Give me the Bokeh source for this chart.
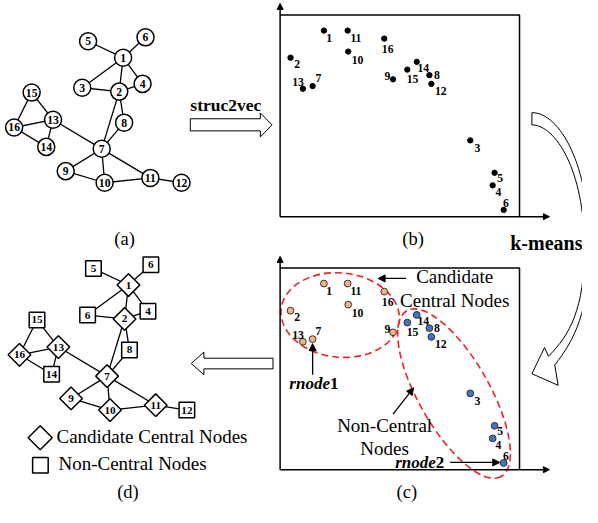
import math
from bokeh.plotting import figure
from bokeh.models import Range1d, Arrow, NormalHead
from bokeh.embed import file_html
from bokeh.resources import INLINE
from bokeh.core.properties import value

# ---------------- data ----------------
node_ids = list(range(1, 17))
# graph layout of panel (a) (reference pixel space)
graph_x = [126, 122, 84, 146, 90, 149, 104, 127, 67, 107, 154, 186, 54, 47, 32, 14]
graph_y = [59, 94, 90, 86, 42, 38, 153, 126, 176, 188, 183, 188, 123, 151, 95, 131]
edge_from = [5, 6, 1, 1, 1, 3, 2, 2, 2, 8, 15, 15, 16, 16, 13, 13, 7, 7, 7, 9, 10, 11]
edge_to = [1, 1, 3, 2, 4, 2, 4, 8, 7, 7, 13, 16, 13, 14, 14, 7, 9, 10, 11, 10, 11, 12]
# struc2vec embedding, panel (b)
emb_x = [332.3, 298, 482.7, 505.7, 507.7, 517, 320.7, 440.7, 403.3, 357.3, 356.7, 442.7, 310.7, 427.7, 418, 394.3]
emb_y = [31, 59, 144.3, 190.7, 177.7, 216, 88.3, 77, 81.3, 52.7, 31, 86, 91, 63.3, 71.3, 39.3]
# k-means result: 1 = candidate central node
cluster = [1, 1, 0, 0, 0, 0, 1, 0, 1, 1, 1, 0, 1, 0, 0, 1]
# node labels printed in panel (d)
d_labels = ["1", "2", "6", "4", "5", "6", "7", "8", "9", "10", "11", "12", "13", "14", "15", "16"]

# ---------------- layout / style ----------------
W, H = 598, 523
PW, PH = 582, 507
S = PW / W
FONT = value("Liberation Serif")
D_DX, D_DY = 5.5, 234.5      # panel (d) offset from (a)
C_DY = 261                   # panel (c) offset from (b)
lab_dx = [5.5, 6.7, 7.3, 6, 5.7, 2.3, 6, 7.7, -5.7, 9.5, 8.5, 9.7, -5, 6.7, 5.3, 3.5]
lab_dy = [8, 7, 8, 7, 5.7, -7.3, -8.3, 0, -3.7, 8.3, 8, 7.3, -7, 6, 9.7, 11]


def fs(px):
    return f"{px * S:.1f}px"


p = figure(width=PW, height=PH, x_range=Range1d(0, W), y_range=Range1d(H, 0),
           output_backend="svg", toolbar_location=None, min_border=0,
           x_axis_location=None, y_axis_location=None)
p.grid.visible = False
p.outline_line_color = None
p.background_fill_color = "white"

idx = {n: i for i, n in enumerate(node_ids)}

# ---------- panels (a) and (d): graphs ----------
for dx, dy in ((0, 0), (D_DX, D_DY)):
    gx = [x + dx for x in graph_x]
    gy = [y + dy for y in graph_y]
    p.segment([gx[idx[a]] for a in edge_from], [gy[idx[a]] for a in edge_from],
              [gx[idx[b]] for b in edge_to], [gy[idx[b]] for b in edge_to],
              line_color="black", line_width=1.3)

# (a) circles
p.scatter(graph_x, graph_y, marker="circle", size=17.5 * S, fill_color="white",
          line_color="black", line_width=1.5)
p.text(graph_x, graph_y, text=[str(n) for n in node_ids], text_font=FONT,
       text_font_style="bold", text_font_size=fs(12), text_align="center",
       text_baseline="middle")

# (d) diamonds / squares
dxs = [x + D_DX for x in graph_x]
dys = [y + D_DY for y in graph_y]
cx_ = [x for x, c in zip(dxs, cluster) if c]
cy_ = [y for y, c in zip(dys, cluster) if c]
nx_ = [x for x, c in zip(dxs, cluster) if not c]
ny_ = [y for y, c in zip(dys, cluster) if not c]
p.scatter(cx_, cy_, marker="square", angle=math.pi / 4, size=16.5 * S,
          fill_color="white", line_color="black", line_width=1.5)
p.scatter(nx_, ny_, marker="square", size=16 * S, fill_color="white",
          line_color="black", line_width=1.5)
p.text(dxs, dys, text=d_labels, text_font=FONT, text_font_style="bold",
       text_font_size=fs(11.5), text_align="center", text_baseline="middle")

# legend of (d)
p.scatter([40.8], [451], marker="square", angle=math.pi / 4, size=17.5 * S,
          fill_color="white", line_color="black", line_width=1.5)
p.scatter([41], [479.5], marker="square", size=16 * S, fill_color="white",
          line_color="black", line_width=1.5)
p.text([57.5, 59.5], [450, 478], text=["Candidate Central Nodes", "Non-Central Nodes"],
       text_font=FONT, text_font_size=fs(19.5), text_align="left", text_baseline="middle")

# ---------- panels (b) and (c): boxes and axes ----------
for dy in (0, C_DY):
    p.line([287.3, 533.3, 533.3], [15 + dy, 15 + dy, 223 + dy], line_color="black", line_width=1.5)
    p.add_layout(Arrow(end=NormalHead(size=6, fill_color="black", line_color="black", line_width=1),
                       x_start=287.3, y_start=223 + dy, x_end=287.3, y_end=3 + dy,
                       line_color="black", line_width=1.5))
    p.add_layout(Arrow(end=NormalHead(size=6, fill_color="black", line_color="black", line_width=1),
                       x_start=287.3, y_start=223 + dy, x_end=564, y_end=223 + dy,
                       line_color="black", line_width=1.5))

# (b) points
p.scatter(emb_x, emb_y, marker="circle", size=5.5 * S, fill_color="black", line_color="black")
p.text([x + a for x, a in zip(emb_x, lab_dx)], [y + b for y, b in zip(emb_y, lab_dy)],
       text=[str(n) for n in node_ids], text_font=FONT, text_font_style="bold",
       text_font_size=fs(12), text_align="center", text_baseline="middle")

# (c) ellipses
p.ellipse(x=349, y=324.5, width=122, height=87, angle=-0.1, fill_color=None,
          line_color="#ee2222", line_width=1.6, line_dash="7 4")
p.ellipse(x=466, y=405.5, width=196, height=73, angle=-math.radians(60.3), fill_color=None,
          line_color="#ee2222", line_width=1.6, line_dash="7 4")

# (c) points
cys = [y + C_DY for y in emb_y]
p.scatter(emb_x, cys, marker="circle", size=7 * S,
          fill_color=["#f4b183" if c else "#4472c4" for c in cluster],
          line_color="#333333", line_width=1)
p.text([x + a for x, a in zip(emb_x, lab_dx)], [y + b for y, b in zip(cys, lab_dy)],
       text=[str(n) for n in node_ids], text_font=FONT, text_font_style="bold",
       text_font_size=fs(12), text_align="center", text_baseline="middle")

# (c) annotations
p.text([466.7, 466.7, 394.7, 394.7], [285, 309, 438, 462],
       text=["Candidate", "Central Nodes", "Non-Central", "Nodes"],
       text_font=FONT, text_font_size=fs(19.5), text_align="center", text_baseline="middle")
p.text([338.5, 447.3], [395.5, 477], text=["rnode", "rnode"], text_font=FONT,
       text_font_style="bold italic", text_font_size=fs(17.5), text_align="right",
       text_baseline="middle")
p.text([338.5, 447.3], [395.5, 477], text=["1", "2"], text_font=FONT,
       text_font_style="bold", text_font_size=fs(17.5), text_align="left",
       text_baseline="middle")
for (x0, y0, x1, y1) in [(416.7, 286.7, 388, 286.7), (403.3, 426.7, 424.5, 399.5),
                         (320.7, 386, 320.7, 354), (462, 476.5, 513, 476.5)]:
    p.add_layout(Arrow(end=NormalHead(size=7, fill_color="black", line_color="black", line_width=1),
                       x_start=x0, y_start=y0, x_end=x1, y_end=y1,
                       line_color="black", line_width=1.3))

# ---------- connecting arrows ----------
p.patch([195, 267, 267, 279, 267, 267, 195], [122, 122, 116, 128.3, 140.7, 134.5, 134.5],
        fill_color="white", line_color="black", line_width=1)
p.patch([280, 209, 209, 196, 209, 209, 280], [369, 369, 362.7, 374.5, 386, 380, 380],
        fill_color="white", line_color="black", line_width=1)
p.text([231.5], [108], text=["struc2vec"], text_font=FONT, text_font_style="bold",
       text_font_size=fs(18), text_align="center", text_baseline="middle")
p.text([560.8], [250], text=["k-means"], text_font=FONT, text_font_style="bold",
       text_font_size=fs(20.5), text_align="center", text_baseline="middle")

# curved hollow arrow (right side)
p.line([546, 546], [115.7, 128.3], line_color="black", line_width=1)
p.bezier(x0=[546, 546], y0=[115.7, 128.3], cx0=[575, 570], cy0=[115.7, 128.3],
         cx1=[605, 600], cy1=[170, 175], x1=[605, 600], y1=[255, 255],
         line_color="black", line_width=1)
p.bezier(x0=[605, 600], y0=[255, 255], cx0=[605, 600], cy0=[320, 318],
         cx1=[590, 585], cy1=[350, 345], x1=[569.5, 563], y1=[376, 367],
         line_color="black", line_width=1)
p.line([563, 559, 546, 573, 569.5], [367, 358, 385, 397, 376], line_color="black", line_width=1)

# panel captions
p.text([127.5, 424, 417.5, 131], [245.7, 245.7, 506.7, 506.7],
       text=["(a)", "(b)", "(c)", "(d)"], text_font=FONT, text_font_size=fs(19),
       text_align="center", text_baseline="middle")

open("out.html", "w").write(file_html(p, INLINE))
